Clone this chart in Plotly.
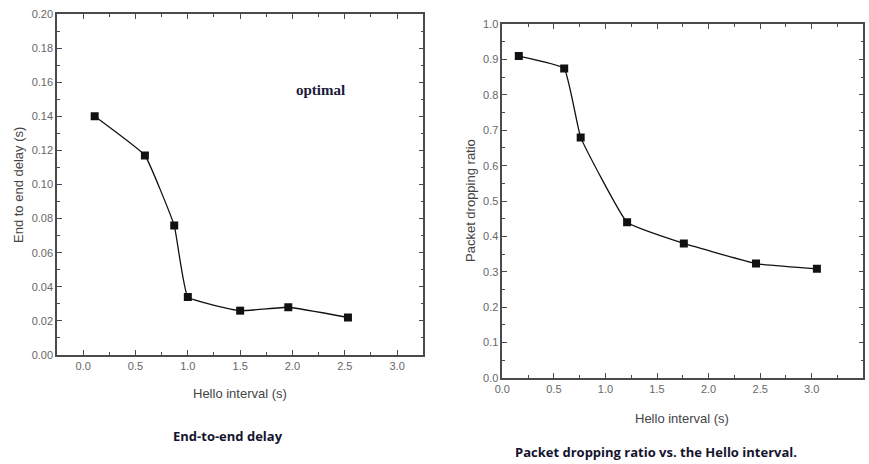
import plotly.graph_objects as go

# Left chart: end-to-end delay
delay_hello = [0.11, 0.59, 0.87, 1.0, 1.5, 1.96, 2.53]
delay_values = [0.140, 0.117, 0.076, 0.034, 0.026, 0.028, 0.022]

# Right chart: packet dropping ratio
drop_hello = [0.16, 0.6, 0.76, 1.21, 1.76, 2.46, 3.05]
drop_values = [0.91, 0.875, 0.68, 0.44, 0.38, 0.323, 0.308]

W, H = 869, 464
AX = "#4a4a4a"
TICKC = "#666666"
FONT = "Liberation Sans, Arial, sans-serif"

fig = go.Figure()
fig.add_trace(go.Scatter(
    x=delay_hello, y=delay_values, mode="lines+markers",
    line=dict(color="#111111", width=1.3, shape="spline", smoothing=0.3),
    marker=dict(symbol="square", size=8, color="#111111"),
    xaxis="x", yaxis="y", showlegend=False))
fig.add_trace(go.Scatter(
    x=drop_hello, y=drop_values, mode="lines+markers",
    line=dict(color="#111111", width=1.3, shape="spline", smoothing=0.3),
    marker=dict(symbol="square", size=8, color="#111111"),
    xaxis="x2", yaxis="y2", showlegend=False))

def ax(**kw):
    d = dict(showline=True, linecolor=AX, linewidth=1.5, mirror="ticks",
             ticks="inside", ticklen=5, tickwidth=1, tickcolor=AX,
             showgrid=False, zeroline=False, automargin=False,
             tickfont=dict(family=FONT, size=11, color=TICKC),
             minor=dict(ticks="inside", ticklen=3, tickcolor=AX, showgrid=False))
    d.update(kw)
    return d

fig.update_layout(
    template="none",
    width=W, height=H, paper_bgcolor="white", plot_bgcolor="white",
    margin=dict(l=0, r=0, t=0, b=0, pad=0, autoexpand=False),
    font=dict(family=FONT),
    xaxis=ax(domain=[57/W, 423.3/W], range=[-0.25, 3.25], dtick=0.5, tick0=0,
             tickformat=".1f", anchor="y", minor_dtick=0.25),
    yaxis=ax(domain=[1-355/H, 1-14/H], range=[0, 0.2], dtick=0.02, tick0=0,
             tickformat=".2f", anchor="x", minor_dtick=0.01),
    xaxis2=ax(domain=[502.3/W, 863.3/W], range=[0, 3.5], dtick=0.5, tick0=0,
              tickformat=".1f", anchor="y2", minor_dtick=0.25),
    yaxis2=ax(domain=[1-377.7/H, 1-24.3/H], range=[0, 1.0], dtick=0.1, tick0=0,
              tickformat=".1f", anchor="x2", minor_dtick=0.05),
)

def ann(text, x, y, size=13, color="#444444", angle=0, family=FONT, bold=False):
    fig.add_annotation(text=f"<b>{text}</b>" if bold else text,
                       x=x/W, y=1-y/H, xref="paper", yref="paper",
                       showarrow=False, textangle=angle,
                       font=dict(family=family, size=size, color=color),
                       xanchor="center", yanchor="middle")

ann("Hello interval (s)", 240, 393)
ann("Hello interval (s)", 682, 418)
ann("End to end delay (s)", 18, 185, angle=-90)
ann("Packet dropping ratio", 470, 200, angle=-90)
ann("optimal", 320, 90, size=15, color="#1a1a3a",
    family="Liberation Serif, Times New Roman, serif", bold=True)
ann("End-to-end delay", 228, 436, size=13, color="#14142e",
    family="Open Sans, sans-serif", bold=True)
ann("Packet dropping ratio vs. the Hello interval.", 656, 452, size=13,
    color="#14142e", family="Open Sans, sans-serif", bold=True)

fig.write_html("out.html", config={"displayModeBar": False},
               post_script="document.body.style.margin='0';document.body.style.overflow='hidden';")
